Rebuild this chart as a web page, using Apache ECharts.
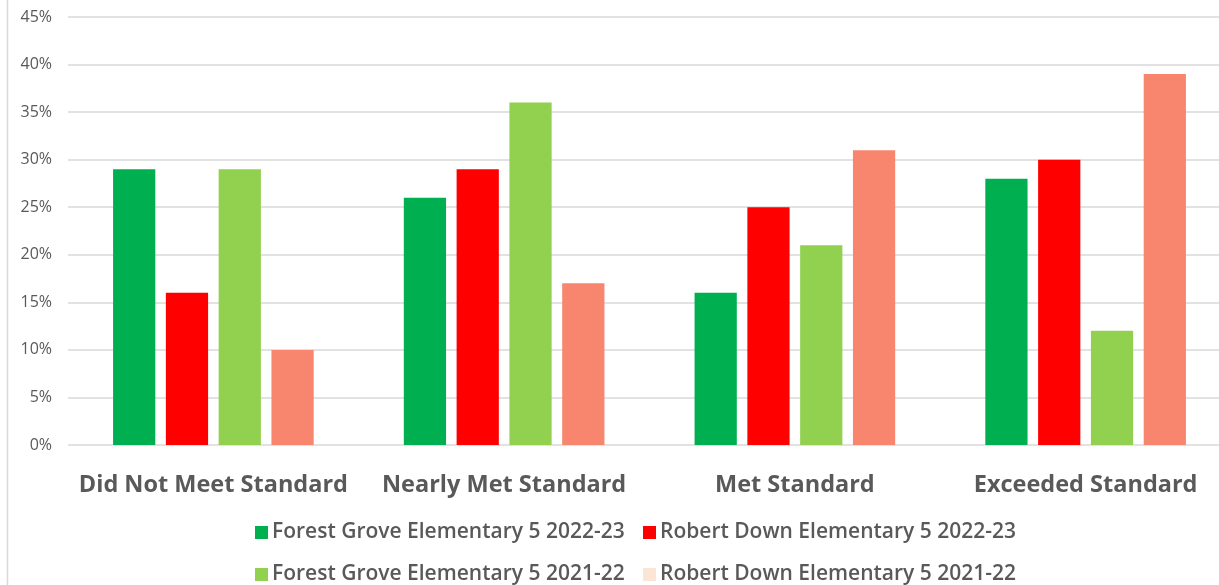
<!DOCTYPE html>
<html><head><meta charset="utf-8">
<script src="https://cdn.jsdelivr.net/npm/echarts@6/dist/echarts.min.js"></script>
<style>html,body{margin:0;padding:0;background:#fff;overflow:hidden}#c{width:1240px;height:585px}</style>
</head><body><div id="c"></div>
<script>
const categories = ['Did Not Meet Standard', 'Nearly Met Standard', 'Met Standard', 'Exceeded Standard'];
const seriesNames = ['Forest Grove Elementary 5 2022-23', 'Robert Down Elementary 5 2022-23', 'Forest Grove Elementary 5 2021-22', 'Robert Down Elementary 5 2021-22'];
const forestGrove2223 = [29, 26, 16, 28];
const robertDown2223 = [16, 29, 25, 30];
const forestGrove2122 = [29, 36, 21, 12];
const robertDown2122 = [10, 17, 31, 39];
const yTicks = [0, 5, 10, 15, 20, 25, 30, 35, 40, 45];

const barColors = ['#00B050', '#FF0000', '#92D050', '#F8866E'];
const legendColors = ['#00B050', '#FF0000', '#92D050', '#FBE5D6'];
const values = [forestGrove2223, robertDown2223, forestGrove2122, robertDown2122];
const font = '"Open Sans", "Noto Sans", sans-serif';

const legendPos = [[250, 517], [638, 517], [250, 559], [638, 559]];
const chart = echarts.init(document.getElementById('c'), null, {renderer: 'canvas'});
chart.setOption({
  animation: false,
  grid: {left: 68, top: 17, right: 9, bottom: 140, containLabel: false},
  xAxis: {
    type: 'category', data: categories,
    axisLine: {show: false}, axisTick: {show: false},
    axisLabel: {interval: 0, color: '#595959', fontSize: 23.5, fontWeight: 'bold', fontFamily: font, margin: 28}
  },
  yAxis: {
    type: 'value', min: yTicks[0], max: yTicks[yTicks.length - 1], interval: 5,
    axisLine: {show: false}, axisTick: {show: false},
    axisLabel: {color: '#595959', fontSize: 16, fontFamily: font, formatter: v => v + '%', margin: 16},
    splitLine: {lineStyle: {color: '#D9D9D9', width: 1.5}}
  },
  legend: seriesNames.map((n, i) => ({
    left: legendPos[i][0], top: legendPos[i][1],
    itemWidth: 13, itemHeight: 13, itemGap: 0,
    icon: 'rect',
    textStyle: {color: '#595959', fontSize: 21, fontWeight: 600, fontFamily: font, padding: [0, 0, 0, -1]},
    data: [{name: n, itemStyle: {color: legendColors[i]}}]
  })),
  graphic: [{type: 'line', shape: {x1: 7.5, y1: 0, x2: 7.5, y2: 585}, style: {stroke: '#D9D9D9', lineWidth: 1.5}}],
  series: seriesNames.map((n, i) => ({
    name: n, type: 'bar', data: values[i],
    barGap: '25%', barCategoryGap: '31%',
    itemStyle: {color: barColors[i]}
  }))
});
</script></body></html>
